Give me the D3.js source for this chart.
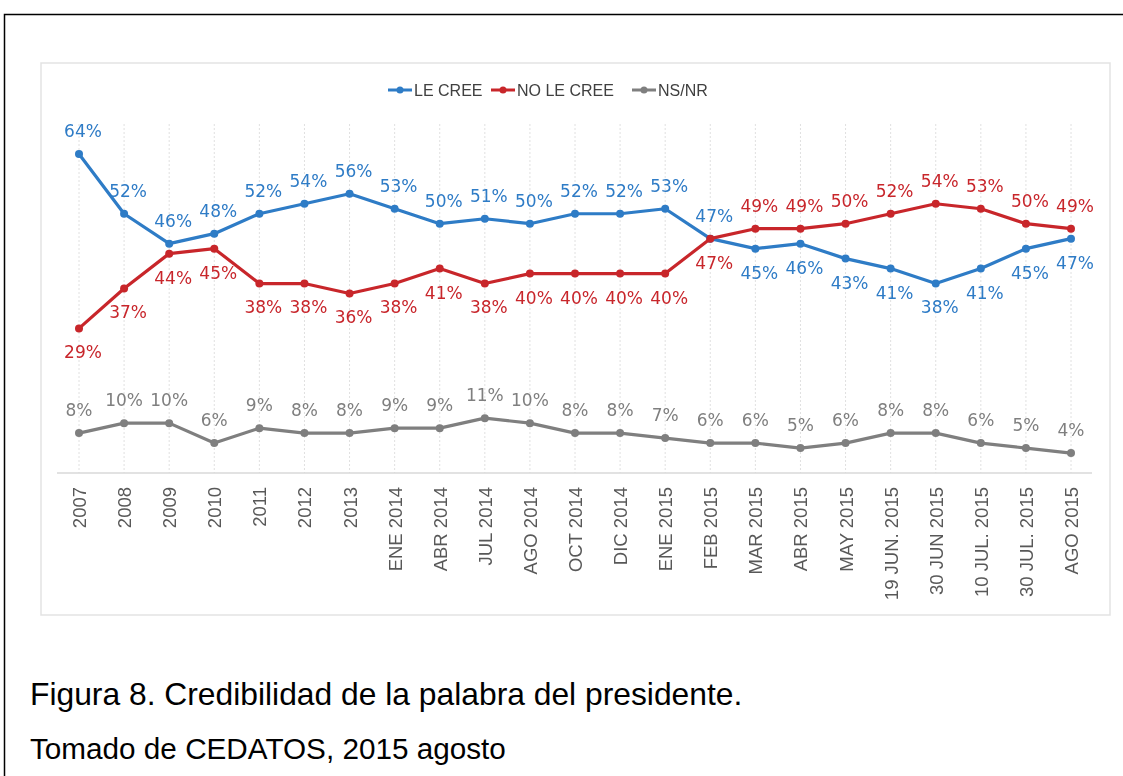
<!DOCTYPE html>
<html>
<head>
<meta charset="utf-8">
<script src="https://cdn.jsdelivr.net/npm/d3@7"></script>
<style>
  html, body { margin: 0; padding: 0; background: #fff; }
  svg { display: block; }
</style>
</head>
<body>
<svg id="fig" width="1123" height="776"></svg>
<script>
// Survey periods
const categories = ["2007", "2008", "2009", "2010", "2011", "2012", "2013",
  "ENE 2014", "ABR 2014", "JUL 2014", "AGO 2014", "OCT 2014", "DIC 2014",
  "ENE 2015", "FEB 2015", "MAR 2015", "ABR 2015", "MAY 2015", "19 JUN. 2015",
  "30 JUN 2015", "10 JUL. 2015", "30 JUL. 2015", "AGO 2015"];

// Percentages per answer
const leCree   = [64, 52, 46, 48, 52, 54, 56, 53, 50, 51, 50, 52, 52, 53, 47, 45, 46, 43, 41, 38, 41, 45, 47];
const noLeCree = [29, 37, 44, 45, 38, 38, 36, 38, 41, 38, 40, 40, 40, 40, 47, 49, 49, 50, 52, 54, 53, 50, 49];
const nsNr     = [8, 10, 10, 6, 9, 8, 8, 9, 9, 11, 10, 8, 8, 7, 6, 6, 5, 6, 8, 8, 6, 5, 4];

// Label side per point: -1 above, +1 below
const leCreeSide   = [-1,-1,-1,-1,-1,-1,-1,-1,-1,-1,-1,-1,-1,-1,-1, 1, 1, 1, 1, 1, 1, 1, 1];
const noLeCreeSide = [ 1, 1, 1, 1, 1, 1, 1, 1, 1, 1, 1, 1, 1, 1, 1,-1,-1,-1,-1,-1,-1,-1,-1];

const seriesNames = ["LE CREE", "NO LE CREE", "NS/NR"];

const series = [
  { name: seriesNames[0], values: leCree,   color: "#2e7bc6", side: leCreeSide },
  { name: seriesNames[1], values: noLeCree, color: "#c8262c", side: noLeCreeSide },
  { name: seriesNames[2], values: nsNr,     color: "#7f7f7f", side: nsNr.map(() => -1) }
];

const svg = d3.select("#fig");

// Outer page frame
svg.append("rect")
  .attr("x", 4.5).attr("y", 14.5).attr("width", 1130).attr("height", 800)
  .attr("fill", "none").attr("stroke", "#000").attr("stroke-width", 1.5);

// Soft filter for the chart image area
const defs = svg.append("defs");
defs.append("filter").attr("id", "soft")
  .append("feGaussianBlur").attr("stdDeviation", 0.65);

const chart = svg.append("g").attr("filter", "url(#soft)");

// Chart panel
chart.append("rect")
  .attr("x", 41).attr("y", 63).attr("width", 1069).attr("height", 552)
  .attr("fill", "#fff").attr("stroke", "#e3e3e3").attr("stroke-width", 1.5);

const x = d3.scalePoint().domain(categories).range([79, 1071]);
const y = d3.scaleLinear().domain([0, 70]).range([473, 124]);

// Vertical dotted gridlines
chart.append("g").selectAll("line")
  .data(categories).join("line")
  .attr("x1", d => x(d)).attr("x2", d => x(d))
  .attr("y1", y(70)).attr("y2", y(0))
  .attr("stroke", "#e0e0e0").attr("stroke-width", 1)
  .attr("stroke-dasharray", "2,2");

// X axis
const xAxis = chart.append("g")
  .attr("transform", `translate(0,${y(0)})`)
  .call(d3.axisBottom(x).tickSize(0).tickPadding(14));
xAxis.select(".domain")
  .attr("d", `M57,0H1092`)
  .attr("stroke", "#d9d9d9").attr("stroke-width", 1.5);
xAxis.selectAll(".tick text")
  .attr("transform", "rotate(-90)")
  .attr("text-anchor", "end")
  .attr("x", -14).attr("y", 0).attr("dy", "0.35em")
  .attr("fill", "#595959")
  .style("font-family", "'Liberation Sans', Arial, sans-serif")
  .style("font-size", "18.5px");

// Lines, markers and value labels
const line = d3.line().x((d, i) => x(categories[i])).y(d => y(d));

series.forEach(s => {
  const g = chart.append("g");
  g.append("path")
    .datum(s.values)
    .attr("d", line)
    .attr("fill", "none")
    .attr("stroke", s.color)
    .attr("stroke-width", 3.2)
    .attr("stroke-linejoin", "round");
  g.selectAll("circle")
    .data(s.values).join("circle")
    .attr("cx", (d, i) => x(categories[i]))
    .attr("cy", d => y(d))
    .attr("r", 4)
    .attr("fill", s.color);
  g.selectAll("text")
    .data(s.values).join("text")
    .attr("x", (d, i) => x(categories[i]) + (s.name === "NS/NR" ? 0 : 4))
    .attr("y", (d, i) => y(d) + (s.side[i] < 0 ? -23 : 24))
    .attr("dy", "0.35em")
    .attr("text-anchor", "middle")
    .attr("fill", s.color)
    .style("font-family", "'DejaVu Sans', sans-serif")
    .style("font-size", "17px")
    .text(d => d + "%");
});

// Legend
const legendItems = [
  { name: seriesNames[0], color: series[0].color, x: 388 },
  { name: seriesNames[1], color: series[1].color, x: 491 },
  { name: seriesNames[2], color: series[2].color, x: 632 }
];
const legend = chart.append("g");
legendItems.forEach(it => {
  const lg = legend.append("g").attr("transform", `translate(${it.x},90)`);
  lg.append("line").attr("x1", 0).attr("x2", 24).attr("y1", 0).attr("y2", 0)
    .attr("stroke", it.color).attr("stroke-width", 3);
  lg.append("circle").attr("cx", 12).attr("cy", 0).attr("r", 3.5).attr("fill", it.color);
  lg.append("text").attr("x", 26).attr("y", 0).attr("dy", "0.35em")
    .attr("fill", "#404040")
    .style("font-family", "'Liberation Sans Narrow', 'Liberation Sans', sans-serif")
    .style("font-size", "16px")
    .text(it.name);
});

// Caption
svg.append("text")
  .attr("x", 30).attr("y", 705)
  .attr("fill", "#000")
  .style("font-family", "'Liberation Sans', Arial, sans-serif")
  .style("font-size", "31.8px")
  .text("Figura 8. Credibilidad de la palabra del presidente.");
svg.append("text")
  .attr("x", 30).attr("y", 759)
  .attr("fill", "#000")
  .style("font-family", "'Liberation Sans', Arial, sans-serif")
  .style("font-size", "29.7px")
  .text("Tomado de CEDATOS, 2015 agosto");
</script>
</body>
</html>
